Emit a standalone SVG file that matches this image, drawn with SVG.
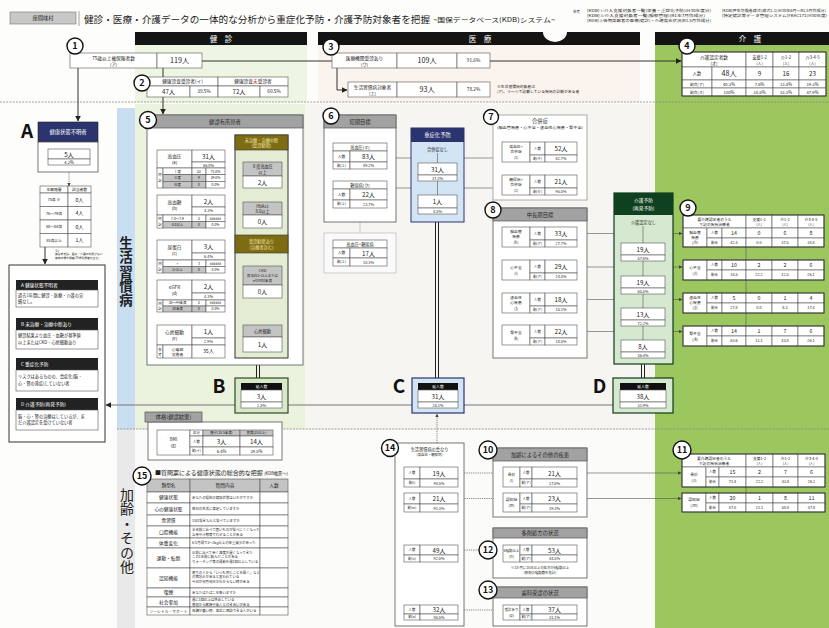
<svg xmlns="http://www.w3.org/2000/svg" width="829" height="628" viewBox="0 0 829 628">
<defs>
<marker id="ah" viewBox="0 0 10 10" refX="9" refY="5" markerWidth="6" markerHeight="6" markerUnits="userSpaceOnUse" orient="auto"><path d="M0,0 L10,5 L0,10 z" fill="#222"/></marker>
<marker id="ahs" viewBox="0 0 10 10" refX="9" refY="5" markerWidth="3.5" markerHeight="3.5" markerUnits="userSpaceOnUse" orient="auto"><path d="M0,0 L10,5 L0,10 z" fill="#444"/></marker>
</defs>
<style>
text{font-family:'Noto Sans CJK JP','Noto Sans',sans-serif;fill:#222;text-anchor:middle}
.l{text-anchor:start}
.w{fill:#fff}
.f3{font-size:3.4px}.f35{font-size:3.8px}.f4{font-size:4.2px}.f45{font-size:4.7px}.f5{font-size:5.3px}.f6{font-size:6.2px}.f7{font-size:7.2px}
.c{fill:#fff;stroke:#555;stroke-width:0.6}
.g{fill:#c4c4c4;stroke:#555;stroke-width:0.6}
.hd{fill:#a2a2a2;stroke:#555;stroke-width:0.7}
.bx{fill:#fff;stroke:#555;stroke-width:0.8}
.ln{stroke:#333;stroke-width:1;fill:none}
.tl{stroke:#555;stroke-width:0.6;fill:none}
.dl{stroke:#555;stroke-width:0.7;stroke-dasharray:1.2 1;fill:none}
.db{stroke:#222;stroke-width:1;fill:none}
.cr{fill:#fff;stroke:#111;stroke-width:1.4}
.nm{font-size:9px;font-weight:bold;fill:#111}
.big{font-size:19px;font-weight:bold;fill:#111}
.sep{stroke:#888;stroke-width:0.8;stroke-dasharray:2 1.2}
.bar{fill:#141414}
.ol{fill:#7e6c14;stroke:#333;stroke-width:0.6}
.olt{fill:#f3e6a8}
.tb{fill:none;stroke:#333;stroke-width:0.9}
.vt{writing-mode:vertical-rl;text-anchor:middle}
</style>

<g id="bg">
<rect x="0" y="0" width="829" height="628" fill="#fdfdfb"/>
<rect x="135" y="45" width="172" height="57" fill="#eef5e2"/>
<rect x="318" y="45" width="322" height="57" fill="#fbf3ee"/>
<rect x="655" y="45" width="174" height="583" fill="#9cc75e"/>
<rect x="135" y="104" width="170" height="325" fill="#ebf2de"/>
<rect x="305" y="104" width="350" height="325" fill="#f6f5f1"/>
<rect x="135" y="429" width="520" height="199" fill="#fbfbf9"/>
<rect x="117" y="108" width="18" height="321" fill="#c9def2"/>
<rect x="117" y="429" width="18" height="199" fill="#e9e9e9"/>
<line class="sep" x1="0" y1="102" x2="829" y2="102"/>
<line class="sep" x1="117" y1="429" x2="829" y2="429"/>
</g>

<g id="header">
<rect x="10" y="12" width="66" height="12" fill="#c8c8c8" stroke="#777" stroke-width="0.6"/>
<text x="43" y="20" class="f5">座間味村</text>
<line x1="79" y1="11" x2="79" y2="26" stroke="#666" stroke-width="0.6"/>
<text x="84" y="22.5" class="l" font-size="9.6" textLength="346" lengthAdjust="spacingAndGlyphs">健診・医療・介護データの一体的な分析から重症化予防・介護予防対象者を把握</text>
<text x="433" y="21.5" class="l" font-size="6.2" textLength="122" lengthAdjust="spacingAndGlyphs">~国保データベース(KDB)システム~</text>
<text x="573" y="13" class="l f3">参考</text>
<text x="587" y="11.5" class="l f3" textLength="124" lengthAdjust="spacingAndGlyphs">[KDB]①介入支援対象者一覧(栄養・重症化予防)(H30年度分)</text>
<text x="587" y="16.5" class="l f3" textLength="118" lengthAdjust="spacingAndGlyphs">[KDB]②介入支援対象者一覧(服薬管理)(R1年7月作成分)</text>
<text x="587" y="21.5" class="l f3" textLength="124" lengthAdjust="spacingAndGlyphs">[KDB]③後期高齢者の医療(健診)・介護突合状況(R1.5月作成分)</text>
<text x="722" y="11.5" class="l f3" textLength="104" lengthAdjust="spacingAndGlyphs">[KDB]厚生労働省様式(様式1-1)(H30年6月〜R1.5月作成分)</text>
<text x="722" y="16.5" class="l f3" textLength="105" lengthAdjust="spacingAndGlyphs">[特定健診等データ管理システム]FKAC171(H30年度)</text>
<rect class="bar" x="135" y="32" width="172" height="13"/>
<text x="221" y="41.5" class="w" font-size="7.5">健　診</text>
<rect class="bar" x="318" y="32" width="322" height="13"/>
<ellipse cx="555" cy="32" rx="12" ry="10" fill="#fdfdfb"/>
<text x="480" y="41.5" class="w" font-size="7.5">医　療</text>
<rect class="bar" x="655" y="32" width="174" height="13"/>
<text x="750" y="41.5" class="w" font-size="7.5">介　護</text>
<text x="126" y="272" class="vt" font-size="13.5" font-weight="bold" letter-spacing="0.8">生活習慣病</text>
<text x="127" y="531" class="vt" font-size="14" letter-spacing="0.5">加齢・その他</text>
</g>

<g id="connectors">
<line class="ln" x1="202" y1="61" x2="332" y2="61"/>
<line class="ln" x1="490" y1="61" x2="681" y2="61" marker-end="url(#ah)"/>
<path class="ln" d="M337,68 V90 H347" marker-end="url(#ah)"/>
<line class="ln" x1="78" y1="68" x2="78" y2="121" marker-end="url(#ah)"/>
<line class="ln" x1="163" y1="68" x2="163" y2="114" marker-end="url(#ah)"/>
<line class="dl" x1="69" y1="172" x2="69" y2="186" marker-end="url(#ahs)"/>
<line class="ln" x1="45" y1="247" x2="45" y2="264" marker-end="url(#ah)"/>
<line x1="613" y1="405" x2="106" y2="405" stroke="#777" stroke-width="1" marker-end="url(#ah)"/>
<line class="dl" x1="225" y1="180" x2="242" y2="180" marker-end="url(#ahs)"/>
<line class="dl" x1="225" y1="218" x2="242" y2="218" marker-end="url(#ahs)"/>
<path class="dl" d="M225,270 H229 V309 H225"/>
<line class="dl" x1="229" y1="270" x2="242" y2="270" marker-end="url(#ahs)"/>
<line class="dl" x1="225" y1="331" x2="242" y2="331" marker-end="url(#ahs)"/>
<line class="db" x1="256.5" y1="365" x2="256.5" y2="378"/><line class="db" x1="259.5" y1="365" x2="259.5" y2="378"/>
<line x1="360" y1="222" x2="360" y2="233" stroke="#aaa" stroke-width="0.6"/>
<line class="tl" x1="387" y1="158" x2="501" y2="158" marker-end="url(#ahs)"/>
<line class="tl" x1="387" y1="188" x2="501" y2="188" marker-end="url(#ahs)"/>
<line class="db" x1="435.5" y1="222" x2="435.5" y2="378"/><line class="db" x1="438.5" y1="222" x2="438.5" y2="378"/>
<line class="tl" x1="577" y1="233.5" x2="682" y2="233.5" marker-end="url(#ahs)"/>
<line class="tl" x1="577" y1="267" x2="682" y2="267" marker-end="url(#ahs)"/>
<line class="tl" x1="577" y1="299.5" x2="682" y2="299.5" marker-end="url(#ahs)"/>
<line class="tl" x1="577" y1="331.5" x2="682" y2="331.5" marker-end="url(#ahs)"/>
<line class="db" x1="641.5" y1="364" x2="641.5" y2="378"/><line class="db" x1="644.5" y1="364" x2="644.5" y2="378"/>
<line class="dl" x1="437" y1="443" x2="437" y2="414" marker-end="url(#ahs)"/>
<line class="tl" x1="577" y1="473" x2="681" y2="473" marker-end="url(#ahs)"/>
<line class="tl" x1="577" y1="498.5" x2="681" y2="498.5" marker-end="url(#ahs)"/>
<line class="dl" x1="503" y1="473" x2="459" y2="473" marker-end="url(#ahs)"/>
<line class="dl" x1="503" y1="498.5" x2="459" y2="498.5" marker-end="url(#ahs)"/>
<line class="dl" x1="503" y1="550" x2="459" y2="550" marker-end="url(#ahs)"/>
<line class="dl" x1="503" y1="610" x2="459" y2="610" marker-end="url(#ahs)"/>
</g>

<g id="n1">
<rect class="c" x="70" y="53" width="87" height="15"/>
<text x="113.5" y="59.5" class="f45">75歳以上被保険者数</text><text x="113.5" y="65.5" class="f4">(ア)</text>
<rect class="c" x="157" y="53" width="45" height="15"/>
<text x="179.5" y="63" class="f7">119人</text>
<circle class="cr" cx="75" cy="46" r="8"/><text x="75" y="49.3" class="nm">1</text>
</g>

<g id="n2">
<rect class="c" x="147" y="77" width="71" height="9"/><text x="182.5" y="83" class="f45">健康診査受診者(イ)</text>
<rect class="c" x="218" y="77" width="70" height="9"/><text x="253" y="83" class="f45">健康診査<tspan fill="#d22">未</tspan>受診者</text>
<rect class="c" x="147" y="86" width="43" height="11"/><text x="168.5" y="93.8" class="f6">47人</text>
<rect class="c" x="190" y="86" width="28" height="11"/><text x="204" y="93" class="f45">39.5%</text>
<rect class="c" x="218" y="86" width="42" height="11"/><text x="239" y="93.8" class="f6">72人</text>
<rect class="c" x="260" y="86" width="28" height="11"/><text x="274" y="93" class="f45">60.5%</text>
<circle class="cr" cx="142" cy="83" r="8"/><text x="142" y="86.3" class="nm">2</text>
</g>

<g id="n3">
<rect class="c" x="332" y="53" width="65" height="15"/><text x="364.5" y="59.5" class="f45">医療機関受診あり</text><text x="364.5" y="65.5" class="f4">(ウ)</text>
<rect class="c" x="397" y="53" width="60" height="15"/><text x="427" y="63" class="f7">109人</text>
<rect class="c" x="457" y="53" width="33" height="15"/><text x="473.5" y="62.3" class="f45">91.6%</text>
<rect class="c" x="348" y="82" width="49" height="15"/><text x="372.5" y="88.5" class="f45">生活習慣病対象者</text><text x="372.5" y="94.5" class="f4">(エ)</text>
<rect class="c" x="397" y="82" width="60" height="15"/><text x="427" y="92" class="f7">93人</text>
<rect class="c" x="457" y="82" width="33" height="15"/><text x="473.5" y="91.3" class="f45">78.2%</text>
<text x="497" y="87.5" class="l f35">※生活習慣病対象者は</text>
<text x="497" y="92.5" class="l f35">(ア)、⑤〜⑧で記載している疾病の診断がある者</text>
<circle class="cr" cx="331" cy="47" r="8"/><text x="331" y="50.3" class="nm">3</text>
</g>

<g id="n4">
<rect class="c" x="682" y="52" width="64" height="15"/><text x="714" y="58.5" class="f45">介護認定者数</text><text x="714" y="64.5" class="f4">(オ)</text>
<rect class="c" x="746" y="52" width="27" height="15"/><text x="759.5" y="58.5" class="f4">支援1-2</text><text x="759.5" y="64.5" class="f35">(人)</text>
<rect class="c" x="773" y="52" width="26" height="15"/><text x="786" y="58.5" class="f4">介1-2</text><text x="786" y="64.5" class="f35">(人)</text>
<rect class="c" x="799" y="52" width="27" height="15"/><text x="812.5" y="58.5" class="f4">介3-4-5</text><text x="812.5" y="64.5" class="f35">(人)</text>
<rect class="c" x="682" y="67" width="30" height="13"/><text x="697" y="75" class="f4">人数</text>
<rect class="c" x="712" y="67" width="34" height="13"/><text x="729" y="76.3" class="f7">48人</text>
<rect class="c" x="746" y="67" width="27" height="13"/><text x="759.5" y="76" class="f6">9</text>
<rect class="c" x="773" y="67" width="26" height="13"/><text x="786" y="76" class="f6">16</text>
<rect class="c" x="799" y="67" width="27" height="13"/><text x="812.5" y="76" class="f6">23</text>
<rect class="c" x="682" y="80" width="30" height="8"/><text x="697" y="85.5" class="f35">割合(ア)</text>
<rect class="c" x="712" y="80" width="34" height="8"/><text x="729" y="85.5" class="f4">40.3%</text>
<rect class="c" x="746" y="80" width="27" height="8"/><text x="759.5" y="85.5" class="f4">7.6%</text>
<rect class="c" x="773" y="80" width="26" height="8"/><text x="786" y="85.5" class="f4">13.4%</text>
<rect class="c" x="799" y="80" width="27" height="8"/><text x="812.5" y="85.5" class="f4">19.3%</text>
<rect class="c" x="682" y="88" width="30" height="8"/><text x="697" y="93.5" class="f35">割合(オ)</text>
<rect class="c" x="712" y="88" width="34" height="8"/><text x="729" y="93.5" class="f4">100%</text>
<rect class="c" x="746" y="88" width="27" height="8"/><text x="759.5" y="93.5" class="f4">18.8%</text>
<rect class="c" x="773" y="88" width="26" height="8"/><text x="786" y="93.5" class="f4">33.3%</text>
<rect class="c" x="799" y="88" width="27" height="8"/><text x="812.5" y="93.5" class="f4">47.9%</text>
<rect class="tb" x="682" y="52" width="144" height="44"/>
<circle class="cr" cx="687" cy="46" r="8"/><text x="687" y="49.3" class="nm">4</text>
</g>

<g id="nA">
<text x="27" y="137.5" class="big" font-size="18">A</text>
<rect x="38" y="122" width="60" height="20" fill="#2c3470" stroke="#222" stroke-width="0.6"/>
<text x="68" y="134" class="w f5">健康状態不明者</text>
<rect class="bx" x="38" y="142" width="60" height="30"/>
<rect class="c" x="48" y="149" width="42" height="10"/><text x="69" y="156.5" class="f6">5人</text>
<rect class="c" x="48" y="159" width="42" height="6"/><text x="69" y="163.5" class="f4">4.2%</text>
<rect class="c" x="40" y="186" width="28" height="7"/><text x="54" y="191" class="f35">年齢階層</text>
<rect class="c" x="68" y="186" width="23" height="7"/><text x="79.5" y="191" class="f35">該当者数</text>
<rect class="c" x="40" y="193" width="28" height="13.5"/><text x="54" y="201.3" class="f35">75歳 ※</text>
<rect class="c" x="68" y="193" width="23" height="13.5"/><text x="79.5" y="201.8" class="f5">0人</text>
<rect class="c" x="40" y="206.5" width="28" height="13.5"/><text x="54" y="214.8" class="f35">76〜79歳</text>
<rect class="c" x="68" y="206.5" width="23" height="13.5"/><text x="79.5" y="215.3" class="f5">4人</text>
<rect class="c" x="40" y="220" width="28" height="13.5"/><text x="54" y="228.3" class="f35">80〜84歳</text>
<rect class="c" x="68" y="220" width="23" height="13.5"/><text x="79.5" y="228.8" class="f5">0人</text>
<rect class="c" x="40" y="233.5" width="28" height="13.5"/><text x="54" y="241.8" class="f35">85歳以上</text>
<rect class="c" x="68" y="233.5" width="23" height="13.5"/><text x="79.5" y="242.3" class="f5">1人</text>
<text x="55" y="251.5" class="l" font-size="3">※)</text>
<text x="55" y="255" class="l" font-size="2.8">健診未受診、医療・介護の利用がない</text>
<text x="55" y="258.5" class="l" font-size="2.8">健康状態不明者(75歳到達者を含む)</text>
</g>

<g id="legend">
<rect x="9" y="265" width="96" height="177" fill="#fff" stroke="#333" stroke-width="1"/>
<rect x="16" y="280" width="82" height="10" fill="#222"/><text x="21" y="287" class="l w f45">A  健康状態不明者</text>
<rect class="c" x="16" y="290" width="82" height="17"/>
<text x="18" y="296.5" class="l f4">過去1年間に健診・医療・介護の実</text><text x="18" y="302.5" class="l f4">績なし。</text>
<rect x="16" y="318" width="82" height="12" fill="#222"/><text x="21" y="326" class="l w f45">B  未治療・治療中断あり</text>
<rect class="c" x="16" y="330" width="82" height="19"/>
<text x="18" y="337" class="l f4">健診結果より血圧・血糖が基準値</text><text x="18" y="343.5" class="l f4">以上またはCKD・心房細動あり</text>
<rect x="16" y="358" width="82" height="12" fill="#222"/><text x="21" y="366" class="l w f45">C  重症化予防</text>
<rect class="c" x="16" y="370" width="82" height="21"/>
<text x="18" y="378" class="l f4">リスクはあるものの、重症化(脳・</text><text x="18" y="384.5" class="l f4">心・腎の発症)していない者</text>
<rect x="16" y="398" width="82" height="12" fill="#222"/><text x="21" y="406" class="l w f45">D  介護予防(再発予防)</text>
<rect class="c" x="16" y="410" width="82" height="20"/>
<text x="18" y="417.5" class="l f4">脳・心・腎の治療はしているが、ま</text><text x="18" y="424" class="l f4">だ介護認定を受けていない者</text>
</g>

<g id="n5">
<rect class="bx" x="147" y="115" width="156" height="250"/>
<rect class="hd" x="147" y="115" width="156" height="13"/>
<text x="225" y="124" class="f5">健診有所見者</text>
<rect class="c" x="157" y="150" width="35" height="18"/><text x="174.5" y="157.5" class="f45">高血圧</text><text x="174.5" y="164" class="f4">(a)</text>
<rect class="c" x="192" y="150" width="33" height="12"/><text x="208.5" y="158.6" class="f6">31人</text>
<rect class="c" x="192" y="162" width="33" height="6"/><text x="208.5" y="166.5" class="f35">66.0%</text>
<rect class="c" x="157" y="168" width="6" height="20"/><text x="160" y="176" class="f3">内</text><text x="160" y="182" class="f3">訳</text>
<rect class="c" x="163" y="168" width="29" height="6.7"/><text x="177.5" y="172.7" class="f3">Ⅰ度</text>
<rect class="c" x="192" y="168" width="14" height="6.7"/><text x="199" y="172.7" class="f3">22</text>
<rect class="c" x="206" y="168" width="19" height="6.7"/><text x="215.5" y="172.7" class="f3">71.0%</text>
<rect class="g" x="163" y="174.7" width="29" height="6.6"/><text x="177.5" y="179.3" class="f3">Ⅱ度</text>
<rect class="g" x="192" y="174.7" width="14" height="6.6"/><text x="199" y="179.3" class="f3">9</text>
<rect class="c" x="206" y="174.7" width="19" height="6.6"/><text x="215.5" y="179.3" class="f3">29.0%</text>
<rect class="g" x="163" y="181.3" width="29" height="6.7"/><text x="177.5" y="186" class="f3">Ⅲ度</text>
<rect class="g" x="192" y="181.3" width="14" height="6.7"/><text x="199" y="186" class="f3">0</text>
<rect class="c" x="206" y="181.3" width="19" height="6.7"/><text x="215.5" y="186" class="f3">0.0%</text>
<rect class="c" x="157" y="195" width="35" height="20"/><text x="174.5" y="203.5" class="f45">高血糖</text><text x="174.5" y="210" class="f4">(b)</text>
<rect class="c" x="192" y="195" width="33" height="12"/><text x="208.5" y="203.6" class="f6">2人</text>
<rect class="c" x="192" y="207" width="33" height="8"/><text x="208.5" y="212.4" class="f35">4.3%</text>
<rect class="c" x="157" y="215" width="6" height="13"/><text x="160" y="220" class="f3">内</text><text x="160" y="226" class="f3">訳</text>
<rect class="c" x="163" y="215" width="29" height="6.5"/><text x="177.5" y="219.6" class="f3">7.0〜7.9</text>
<rect class="c" x="192" y="215" width="14" height="6.5"/><text x="199" y="219.6" class="f3">2</text>
<rect class="c" x="206" y="215" width="19" height="6.5"/><text x="215.5" y="219.6" class="f3">######</text>
<rect class="g" x="163" y="221.5" width="29" height="6.5"/><text x="177.5" y="226.1" class="f3">8.0以上</text>
<rect class="g" x="192" y="221.5" width="14" height="6.5"/><text x="199" y="226.1" class="f3">0</text>
<rect class="c" x="206" y="221.5" width="19" height="6.5"/><text x="215.5" y="226.1" class="f3">0.0%</text>
<rect class="c" x="157" y="240" width="35" height="20"/><text x="174.5" y="248.5" class="f45">尿蛋白</text><text x="174.5" y="255" class="f4">(c)</text>
<rect class="c" x="192" y="240" width="33" height="13"/><text x="208.5" y="249" class="f6">3人</text>
<rect class="c" x="192" y="253" width="33" height="7"/><text x="208.5" y="257.9" class="f35">6.4%</text>
<rect class="c" x="157" y="260" width="6" height="13"/><text x="160" y="265" class="f3">内</text><text x="160" y="271" class="f3">訳</text>
<rect class="c" x="163" y="260" width="29" height="6.5"/><text x="177.5" y="264.6" class="f3">+</text>
<rect class="c" x="192" y="260" width="14" height="6.5"/><text x="199" y="264.6" class="f3">3</text>
<rect class="c" x="206" y="260" width="19" height="6.5"/><text x="215.5" y="264.6" class="f3">######</text>
<rect class="g" x="163" y="266.5" width="29" height="6.5"/><text x="177.5" y="271.1" class="f3">2+以上</text>
<rect class="g" x="192" y="266.5" width="14" height="6.5"/><text x="199" y="271.1" class="f3">0</text>
<rect class="c" x="206" y="266.5" width="19" height="6.5"/><text x="215.5" y="271.1" class="f3">0.0%</text>
<rect class="c" x="157" y="280" width="35" height="20"/><text x="174.5" y="288.5" class="f45">eGFR</text><text x="174.5" y="295" class="f4">(d)</text>
<rect class="c" x="192" y="280" width="33" height="13"/><text x="208.5" y="289" class="f6">2人</text>
<rect class="c" x="192" y="293" width="33" height="7"/><text x="208.5" y="297.9" class="f35">4.3%</text>
<rect class="c" x="157" y="300" width="6" height="12"/><text x="160" y="304.8" class="f3">内</text><text x="160" y="310.3" class="f3">訳</text>
<rect class="c" x="163" y="300" width="29" height="6"/><text x="177.5" y="304.3" class="f3">30〜44未満</text>
<rect class="c" x="192" y="300" width="14" height="6"/><text x="199" y="304.3" class="f3">2</text>
<rect class="c" x="206" y="300" width="19" height="6"/><text x="215.5" y="304.3" class="f3">######</text>
<rect class="g" x="163" y="306" width="29" height="6"/><text x="177.5" y="310.3" class="f3">30未満</text>
<rect class="g" x="192" y="306" width="14" height="6"/><text x="199" y="310.3" class="f3">0</text>
<rect class="c" x="206" y="306" width="19" height="6"/><text x="215.5" y="310.3" class="f3">0.0%</text>
<rect class="c" x="157" y="325" width="35" height="20"/><text x="174.5" y="333.5" class="f45">心房細動</text><text x="174.5" y="340" class="f4">(e)</text>
<rect class="c" x="192" y="325" width="33" height="13"/><text x="208.5" y="334" class="f6">1人</text>
<rect class="c" x="192" y="338" width="33" height="7"/><text x="208.5" y="342.9" class="f35">2.9%</text>
<rect class="c" x="157" y="345" width="6" height="13"/><text x="160" y="350.5" class="f3">参</text><text x="160" y="356" class="f3">考</text>
<rect class="c" x="163" y="345" width="29" height="13"/><text x="177.5" y="350.5" class="f35">心電図</text><text x="177.5" y="355.8" class="f35">実施者</text>
<rect class="c" x="192" y="345" width="33" height="13"/><text x="208.5" y="353.3" class="f5">35人</text>
<rect x="235" y="135" width="53" height="223" fill="#e4edd4" stroke="#333" stroke-width="1"/>
<rect class="ol" x="235" y="135" width="53" height="15"/>
<text x="261.5" y="141.5" class="olt f4">未治療・治療中断</text><text x="261.5" y="147.3" class="olt f4">(受診勧奨)</text>
<rect class="g" x="243" y="162" width="39" height="14"/><text x="262.5" y="168" class="f4">Ⅱ度高血圧</text><text x="262.5" y="173.5" class="f4">以上</text>
<rect class="c" x="243" y="176" width="39" height="12"/><text x="262.5" y="184.6" class="f6">2人</text>
<rect class="g" x="243" y="202" width="39" height="13"/><text x="262.5" y="207.6" class="f4">HbA1c</text><text x="262.5" y="212.8" class="f4">8.0以上</text>
<rect class="c" x="243" y="215" width="39" height="13"/><text x="262.5" y="224" class="f6">0人</text>
<rect class="ol" x="235" y="235" width="53" height="18"/>
<text x="261.5" y="243" class="olt f4">受診勧奨あり</text><text x="261.5" y="249" class="olt f4">(治療者含む)</text>
<rect class="g" x="243" y="266" width="39" height="19"/><text x="262.5" y="271.5" class="f35">CKD</text><text x="262.5" y="276.5" class="f3">尿蛋白2+以上または</text><text x="262.5" y="281.5" class="f3">eGFR30未満</text>
<rect class="c" x="243" y="285" width="39" height="13"/><text x="262.5" y="294" class="f6">0人</text>
<rect class="g" x="243" y="325" width="39" height="12"/><text x="262.5" y="332.5" class="f4">心房細動</text>
<rect class="c" x="243" y="337" width="39" height="15"/><text x="262.5" y="347" class="f6">1人</text>
<circle class="cr" cx="148" cy="120" r="8.5"/><text x="148" y="123.3" class="nm">5</text>
</g>

<g id="nB">
<text x="219" y="393" class="big">B</text>
<rect x="235" y="378" width="53" height="35" fill="#d9e8c9" stroke="#2d4a25" stroke-width="1.2"/>
<rect x="241" y="383" width="41" height="7" fill="#111"/><text x="261.5" y="388.2" class="w f35">延人数</text>
<rect class="c" x="241" y="390" width="41" height="12"/><text x="261.5" y="398.6" class="f6">3人</text>
<rect class="c" x="241" y="402" width="41" height="6"/><text x="261.5" y="406.5" class="f35">2.5%</text>
</g>

<g id="nBMI">
<rect class="bx" x="148" y="422" width="134" height="38"/>
<rect class="hd" x="145" y="412" width="57" height="10"/><text x="173.5" y="419" class="f5">体格(健診結果)</text>
<rect class="c" x="157" y="430" width="33" height="25"/><text x="173.5" y="441" class="f4">BMI</text><text x="173.5" y="447" class="f4">(g)</text>
<rect class="c" x="190" y="430" width="13" height="6"/><text x="196.5" y="434.3" class="f3">区分</text>
<rect class="g" x="203" y="430" width="37" height="6"/><text x="221.5" y="434.3" class="f3">痩せ(18.5未満)</text>
<rect class="g" x="240" y="430" width="33" height="6"/><text x="256.5" y="434.3" class="f3">肥満(25以上)</text>
<rect class="c" x="190" y="436" width="13" height="11"/><text x="196.5" y="442.7" class="f3">人数</text>
<rect class="c" x="203" y="436" width="37" height="11"/><text x="221.5" y="443.8" class="f6">3人</text>
<rect class="c" x="240" y="436" width="33" height="11"/><text x="256.5" y="443.8" class="f6">14人</text>
<rect class="c" x="190" y="447" width="13" height="8"/><text x="196.5" y="452.2" class="f3">割(イ)</text>
<rect class="c" x="203" y="447" width="37" height="8"/><text x="221.5" y="452.5" class="f4">6.4%</text>
<rect class="c" x="240" y="447" width="33" height="8"/><text x="256.5" y="452.5" class="f4">29.8%</text>
</g>

<g id="n15">
<text x="155" y="475" class="l" font-size="6">■質問票による健康状態の総合的な把握 <tspan font-size="4.2">(KDB帳票〜)</tspan></text>
<rect class="g" x="147" y="479" width="43" height="13"/><text x="168.5" y="487" class="f45">類型名</text>
<rect class="g" x="190" y="479" width="70" height="13"/><text x="225" y="487" class="f45">質問内容</text>
<rect class="g" x="260" y="479" width="28" height="13"/><text x="274" y="487" class="f45">人数</text>
<rect class="c" x="147" y="492" width="43" height="11"/><text x="168.5" y="499" class="f45">健康状態</text>
<rect class="c" x="190" y="492" width="70" height="11"/><text x="192" y="498.7" class="l f3">あなたの現在の健康状態はいかがですか</text>
<rect class="c" x="260" y="492" width="28" height="11"/>
<rect class="c" x="147" y="503" width="43" height="12"/><text x="168.5" y="510.5" class="f45">心の健康状態</text>
<rect class="c" x="190" y="503" width="70" height="12"/><text x="192" y="510.2" class="l f3">毎日の生活に満足していますか</text>
<rect class="c" x="260" y="503" width="28" height="12"/>
<rect class="c" x="147" y="515" width="43" height="11"/><text x="168.5" y="522" class="f45">食習慣</text>
<rect class="c" x="190" y="515" width="70" height="11"/><text x="192" y="521.7" class="l f3">1日3食きちんと食べていますか</text>
<rect class="c" x="260" y="515" width="28" height="11"/>
<rect class="c" x="147" y="526" width="43" height="12"/><text x="168.5" y="533.5" class="f45">口腔機能</text>
<rect class="c" x="190" y="526" width="70" height="12"/><text x="192" y="531" class="l f3">半年前に比べて固いものが食べにくくなった</text><text x="192" y="535.5" class="l f3">お茶や汁物等でむせることがある</text>
<rect class="c" x="260" y="526" width="28" height="12"/>
<rect class="c" x="147" y="538" width="43" height="10"/><text x="168.5" y="544.7" class="f45">体重変化</text>
<rect class="c" x="190" y="538" width="70" height="10"/><text x="192" y="544.3" class="l f3">6カ月間で2〜3kg以上の体重減少があった</text>
<rect class="c" x="260" y="538" width="28" height="10"/>
<rect class="c" x="147" y="548" width="43" height="20"/><text x="168.5" y="559.5" class="f45">運動・転倒</text>
<rect class="c" x="190" y="548" width="70" height="20"/><text x="192" y="553.5" class="l f3">以前に比べて歩く速度が遅くなってきた</text><text x="192" y="558.3" class="l f3">この1年間に転んだことがある</text><text x="192" y="563.1" class="l f3">ウォーキング等の運動を週1回以上している</text>
<rect class="c" x="260" y="548" width="28" height="20"/>
<rect class="c" x="147" y="568" width="43" height="20"/><text x="168.5" y="579.5" class="f45">認知機能</text>
<rect class="c" x="190" y="568" width="70" height="20"/><text x="192" y="573.5" class="l f3">周りの人から「いつも同じことを聞く」など</text><text x="192" y="578.3" class="l f3">の物忘れがあると言われている</text><text x="192" y="583.1" class="l f3">今日が何月何日かわからない時がある</text>
<rect class="c" x="260" y="568" width="28" height="20"/>
<rect class="c" x="147" y="588" width="43" height="9"/><text x="168.5" y="594.2" class="f45">喫煙</text>
<rect class="c" x="190" y="588" width="70" height="9"/><text x="192" y="593.8" class="l f3">あなたはたばこを吸いますか</text>
<rect class="c" x="260" y="588" width="28" height="9"/>
<rect class="c" x="147" y="597" width="43" height="10"/><text x="168.5" y="603.7" class="f45">社会参加</text>
<rect class="c" x="190" y="597" width="70" height="10"/><text x="192" y="601.3" class="l f3">週に1回以上は外出している</text><text x="192" y="605.5" class="l f3">普段から家族や友人と付き合いがある</text>
<rect class="c" x="260" y="597" width="28" height="10"/>
<rect class="c" x="147" y="607" width="43" height="8"/><text x="168.5" y="612.5" class="f35">ソーシャル・サポート</text>
<rect class="c" x="190" y="607" width="70" height="8"/><text x="192" y="612.2" class="l f3">体調が悪い時、身近に相談できる人がいる</text>
<rect class="c" x="260" y="607" width="28" height="8"/>
<circle class="cr" cx="142" cy="476" r="9"/><text x="142" y="479.3" class="nm" font-size="8.5">15</text>
</g>

<g id="n6">
<rect class="bx" x="324" y="115" width="72" height="107"/>
<rect class="hd" x="324" y="115" width="72" height="13"/><text x="360" y="124" class="f5">短期目標</text>
<rect class="c" x="333" y="143" width="54" height="8"/><text x="360" y="148.6" class="f4">高血圧(キ)</text>
<rect class="c" x="333" y="151" width="17" height="11"/><text x="341.5" y="157.8" class="f35">人数</text>
<rect class="c" x="350" y="151" width="37" height="11"/><text x="368.5" y="159" class="f6">83人</text>
<rect class="c" x="333" y="162" width="17" height="7"/><text x="341.5" y="166.8" class="f3">割(エ)</text>
<rect class="c" x="350" y="162" width="37" height="7"/><text x="368.5" y="167" class="f35">89.2%</text>
<rect class="c" x="333" y="181" width="54" height="8"/><text x="360" y="186.6" class="f4">糖尿病(ク)</text>
<rect class="c" x="333" y="189" width="17" height="11"/><text x="341.5" y="195.8" class="f35">人数</text>
<rect class="c" x="350" y="189" width="37" height="11"/><text x="368.5" y="197" class="f6">22人</text>
<rect class="c" x="333" y="200" width="17" height="8"/><text x="341.5" y="205.3" class="f3">割(エ)</text>
<rect class="c" x="350" y="200" width="37" height="8"/><text x="368.5" y="205.5" class="f35">23.7%</text>
<rect x="324" y="233" width="72" height="40" fill="#fafafa" stroke="#bbb" stroke-width="0.7"/>
<rect class="c" x="333" y="240" width="54" height="8"/><text x="360" y="245.6" class="f4">高血圧+糖尿病</text>
<rect class="c" x="333" y="248" width="17" height="10"/><text x="341.5" y="254.3" class="f35">人数</text>
<rect class="c" x="350" y="248" width="37" height="10"/><text x="368.5" y="255.5" class="f6">17人</text>
<rect class="c" x="333" y="258" width="17" height="8"/><text x="341.5" y="263.3" class="f3">割(エ)</text>
<rect class="c" x="350" y="258" width="37" height="8"/><text x="368.5" y="263.5" class="f35">18.3%</text>
<circle class="cr" cx="331" cy="116" r="8"/><text x="331" y="119.3" class="nm">6</text>
</g>

<g id="nCcol">
<rect x="411" y="128" width="53" height="94" fill="#d3e4f4" stroke="#2c3470" stroke-width="1"/>
<rect x="411" y="128" width="53" height="14" fill="#2c3470"/>
<text x="437.5" y="137" class="w f5">重症化予防</text>
<text x="437.5" y="151" class="f4">合併症なし</text>
<line class="tl" x1="437.5" y1="153" x2="437.5" y2="195"/>
<rect class="c" x="418" y="163" width="39" height="12"/><text x="437.5" y="171.6" class="f6">31人</text>
<rect class="c" x="418" y="175" width="39" height="6"/><text x="437.5" y="179.5" class="f35">37.3%</text>
<rect class="c" x="418" y="195" width="39" height="13"/><text x="437.5" y="204" class="f6">1人</text>
<rect class="c" x="418" y="208" width="39" height="6"/><text x="437.5" y="212.5" class="f35">4.5%</text>
</g>

<g id="nC">
<text x="399" y="393" class="big">C</text>
<rect x="412" y="378" width="52" height="35" fill="#d3e4f4" stroke="#2c3470" stroke-width="1.2"/>
<rect x="418" y="383" width="40" height="7" fill="#111"/><text x="438" y="388.2" class="w f35">延人数</text>
<rect class="c" x="418" y="390" width="40" height="12"/><text x="438" y="398.6" class="f6">31人</text>
<rect class="c" x="418" y="402" width="40" height="6"/><text x="438" y="406.5" class="f35">26.1%</text>
</g>

<g id="n7">
<rect x="493" y="115" width="94" height="85" fill="#fff" stroke="#999" stroke-width="0.8"/>
<text x="540" y="123" class="f5">合併症</text>
<text x="540" y="129" class="f3" textLength="86" lengthAdjust="spacingAndGlyphs">(脳血管疾患・心不全・虚血性心疾患・腎不全)</text>
<rect class="c" x="502" y="142" width="28" height="20"/><text x="516" y="148" class="f35">高血圧+</text><text x="516" y="153.3" class="f35">合併症</text><text x="516" y="158.6" class="f35">(1)</text>
<rect class="c" x="530" y="142" width="15" height="13"/><text x="537.5" y="149.8" class="f3">人数</text>
<rect class="c" x="545" y="142" width="32" height="13"/><text x="561" y="151" class="f6">52人</text>
<rect class="c" x="530" y="155" width="15" height="7"/><text x="537.5" y="159.8" class="f3">割(キ)</text>
<rect class="c" x="545" y="155" width="32" height="7"/><text x="561" y="160" class="f35">62.7%</text>
<rect class="c" x="502" y="175" width="28" height="20"/><text x="516" y="181" class="f35">糖尿病+</text><text x="516" y="186.3" class="f35">合併症</text><text x="516" y="191.6" class="f35">(2)</text>
<rect class="c" x="530" y="175" width="15" height="13"/><text x="537.5" y="182.8" class="f3">人数</text>
<rect class="c" x="545" y="175" width="32" height="13"/><text x="561" y="184" class="f6">21人</text>
<rect class="c" x="530" y="188" width="15" height="7"/><text x="537.5" y="192.8" class="f3">割(ク)</text>
<rect class="c" x="545" y="188" width="32" height="7"/><text x="561" y="193" class="f35">95.5%</text>
<circle class="cr" cx="491" cy="117" r="7.5"/><text x="491" y="120.3" class="nm">7</text>
</g>

<g id="n8">
<rect class="bx" x="493" y="208" width="94" height="150"/>
<rect class="hd" x="493" y="208" width="94" height="13"/><text x="540" y="217.3" class="f5">中長期目標</text>
<rect class="c" x="502" y="227" width="28" height="20"/><text x="516" y="233" class="f35">脳血管</text><text x="516" y="238.3" class="f35">疾患</text><text x="516" y="243.6" class="f35">(h)</text>
<rect class="c" x="530" y="227" width="15" height="13"/><text x="537.5" y="234.8" class="f3">人数</text>
<rect class="c" x="545" y="227" width="32" height="13"/><text x="561" y="236" class="f6">33人</text>
<rect class="c" x="530" y="240" width="15" height="7"/><text x="537.5" y="244.8" class="f3">割(ア)</text>
<rect class="c" x="545" y="240" width="32" height="7"/><text x="561" y="245" class="f35">27.7%</text>
<rect class="c" x="502" y="260" width="28" height="20"/><text x="516" y="268.5" class="f35">心不全</text><text x="516" y="274.5" class="f35">(i)</text>
<rect class="c" x="530" y="260" width="15" height="13"/><text x="537.5" y="267.8" class="f3">人数</text>
<rect class="c" x="545" y="260" width="32" height="13"/><text x="561" y="269" class="f6">29人</text>
<rect class="c" x="530" y="273" width="15" height="7"/><text x="537.5" y="277.8" class="f3">割(ア)</text>
<rect class="c" x="545" y="273" width="32" height="7"/><text x="561" y="278" class="f35">24.4%</text>
<rect class="c" x="502" y="293" width="28" height="20"/><text x="516" y="299" class="f35">虚血性</text><text x="516" y="304.3" class="f35">心疾患</text><text x="516" y="309.6" class="f35">(j)</text>
<rect class="c" x="530" y="293" width="15" height="13"/><text x="537.5" y="300.8" class="f3">人数</text>
<rect class="c" x="545" y="293" width="32" height="13"/><text x="561" y="302" class="f6">18人</text>
<rect class="c" x="530" y="306" width="15" height="7"/><text x="537.5" y="310.8" class="f3">割(ア)</text>
<rect class="c" x="545" y="306" width="32" height="7"/><text x="561" y="311" class="f35">15.1%</text>
<rect class="c" x="502" y="325" width="28" height="20"/><text x="516" y="333.5" class="f35">腎不全</text><text x="516" y="339.5" class="f35">(k)</text>
<rect class="c" x="530" y="325" width="15" height="13"/><text x="537.5" y="332.8" class="f3">人数</text>
<rect class="c" x="545" y="325" width="32" height="13"/><text x="561" y="334" class="f6">22人</text>
<rect class="c" x="530" y="338" width="15" height="7"/><text x="537.5" y="342.8" class="f3">割(ア)</text>
<rect class="c" x="545" y="338" width="32" height="7"/><text x="561" y="343" class="f35">18.5%</text>
<circle class="cr" cx="493" cy="210" r="8"/><text x="493" y="213.3" class="nm">8</text>
</g>

<g id="nDcol">
<rect x="614" y="193" width="59" height="171" fill="#d4e9d0" stroke="#0f3a1c" stroke-width="1.2"/>
<rect x="614" y="193" width="59" height="22" fill="#0f4020"/>
<text x="643.5" y="202" class="w f45">介護予防</text><text x="643.5" y="209.5" class="w f45">(再発予防)</text>
<text x="643.5" y="224" class="f4">介護認定なし</text>
<line class="tl" x1="643" y1="226" x2="643" y2="340"/>
<rect class="c" x="621" y="243" width="44" height="12"/><text x="643" y="251.6" class="f6">19人</text>
<rect class="c" x="621" y="255" width="44" height="6"/><text x="643" y="259.5" class="f35">57.6%</text>
<rect class="c" x="621" y="276" width="44" height="12"/><text x="643" y="284.6" class="f6">19人</text>
<rect class="c" x="621" y="288" width="44" height="6"/><text x="643" y="292.5" class="f35">65.5%</text>
<rect class="c" x="621" y="308" width="44" height="12"/><text x="643" y="316.6" class="f6">13人</text>
<rect class="c" x="621" y="320" width="44" height="6"/><text x="643" y="324.5" class="f35">72.2%</text>
<rect class="c" x="621" y="340" width="44" height="12"/><text x="643" y="348.6" class="f6">8人</text>
<rect class="c" x="621" y="352" width="44" height="6"/><text x="643" y="356.5" class="f35">36.4%</text>
</g>

<g id="nD">
<text x="599.5" y="393" class="big">D</text>
<rect x="613" y="378" width="60" height="35" fill="#d4e9d0" stroke="#0f3a1c" stroke-width="1.2"/>
<rect x="620" y="383" width="46" height="7" fill="#111"/><text x="643" y="388.2" class="w f35">延人数</text>
<rect class="c" x="620" y="390" width="46" height="12"/><text x="643" y="398.6" class="f6">38人</text>
<rect class="c" x="620" y="402" width="46" height="6"/><text x="643" y="406.5" class="f35">31.9%</text>
</g>

<g id="n9">
<line class="tl" x1="746" y1="247" x2="746" y2="326"/>
<rect class="c" x="683" y="215" width="63" height="13"/><text x="714.5" y="220.5" class="f35">要介護認定者のうち</text><text x="714.5" y="225.7" class="f35">下記の疾病治療者</text>
<rect class="c" x="746" y="215" width="26" height="13"/><text x="759" y="220.5" class="f35">支援1-2</text><text x="759" y="225.7" class="f3">(人)</text>
<rect class="c" x="772" y="215" width="26" height="13"/><text x="785" y="220.5" class="f35">介1-2</text><text x="785" y="225.7" class="f3">(人)</text>
<rect class="c" x="798" y="215" width="26" height="13"/><text x="811" y="220.5" class="f35">介3-4-5</text><text x="811" y="225.7" class="f3">(人)</text>
<rect class="c" x="683" y="228" width="24" height="19"/><text x="695" y="233.8" class="f35">脳血管</text><text x="695" y="238.8" class="f35">疾患</text><text x="695" y="243.8" class="f35">(/h)</text>
<rect class="c" x="707" y="228" width="15" height="10"/><text x="714.5" y="234.2" class="f3">人数</text>
<rect class="c" x="707" y="238" width="15" height="9"/><text x="714.5" y="243.7" class="f3">割合</text>
<rect class="c" x="722" y="228" width="24" height="10"/><text x="734" y="235" class="f5">14</text>
<rect class="c" x="746" y="228" width="26" height="10"/><text x="759" y="235" class="f5">0</text>
<rect class="c" x="772" y="228" width="26" height="10"/><text x="785" y="235" class="f5">6</text>
<rect class="c" x="798" y="228" width="26" height="10"/><text x="811" y="235" class="f5">8</text>
<rect class="c" x="722" y="238" width="24" height="9"/><text x="734" y="243.8" class="f35">42.4</text>
<rect class="c" x="746" y="238" width="26" height="9"/><text x="759" y="243.8" class="f35">0.0</text>
<rect class="c" x="772" y="238" width="26" height="9"/><text x="785" y="243.8" class="f35">37.5</text>
<rect class="c" x="798" y="238" width="26" height="9"/><text x="811" y="243.8" class="f35">34.8</text>
<rect class="tb" x="683" y="215" width="141" height="32"/>
<rect class="c" x="683" y="260" width="24" height="20"/><text x="695" y="268.5" class="f35">心不全</text><text x="695" y="274.5" class="f35">(/i)</text>
<rect class="c" x="707" y="260" width="15" height="10"/><text x="714.5" y="266.2" class="f3">人数</text>
<rect class="c" x="707" y="270" width="15" height="10"/><text x="714.5" y="276.2" class="f3">割合</text>
<rect class="c" x="722" y="260" width="24" height="10"/><text x="734" y="267" class="f5">10</text>
<rect class="c" x="746" y="260" width="26" height="10"/><text x="759" y="267" class="f5">2</text>
<rect class="c" x="772" y="260" width="26" height="10"/><text x="785" y="267" class="f5">2</text>
<rect class="c" x="798" y="260" width="26" height="10"/><text x="811" y="267" class="f5">6</text>
<rect class="c" x="722" y="270" width="24" height="10"/><text x="734" y="276.3" class="f35">34.5</text>
<rect class="c" x="746" y="270" width="26" height="10"/><text x="759" y="276.3" class="f35">22.2</text>
<rect class="c" x="772" y="270" width="26" height="10"/><text x="785" y="276.3" class="f35">12.5</text>
<rect class="c" x="798" y="270" width="26" height="10"/><text x="811" y="276.3" class="f35">26.1</text>
<rect class="tb" x="683" y="260" width="141" height="20"/>
<rect class="c" x="683" y="293" width="24" height="20"/><text x="695" y="299" class="f35">虚血性</text><text x="695" y="304" class="f35">心疾患</text><text x="695" y="309" class="f35">(/j)</text>
<rect class="c" x="707" y="293" width="15" height="10"/><text x="714.5" y="299.2" class="f3">人数</text>
<rect class="c" x="707" y="303" width="15" height="10"/><text x="714.5" y="309.2" class="f3">割合</text>
<rect class="c" x="722" y="293" width="24" height="10"/><text x="734" y="300" class="f5">5</text>
<rect class="c" x="746" y="293" width="26" height="10"/><text x="759" y="300" class="f5">0</text>
<rect class="c" x="772" y="293" width="26" height="10"/><text x="785" y="300" class="f5">1</text>
<rect class="c" x="798" y="293" width="26" height="10"/><text x="811" y="300" class="f5">4</text>
<rect class="c" x="722" y="303" width="24" height="10"/><text x="734" y="309.3" class="f35">27.8</text>
<rect class="c" x="746" y="303" width="26" height="10"/><text x="759" y="309.3" class="f35">0.0</text>
<rect class="c" x="772" y="303" width="26" height="10"/><text x="785" y="309.3" class="f35">6.3</text>
<rect class="c" x="798" y="303" width="26" height="10"/><text x="811" y="309.3" class="f35">17.4</text>
<rect class="tb" x="683" y="293" width="141" height="20"/>
<rect class="c" x="683" y="326" width="24" height="20"/><text x="695" y="334.5" class="f35">腎不全</text><text x="695" y="340.5" class="f35">(/k)</text>
<rect class="c" x="707" y="326" width="15" height="10"/><text x="714.5" y="332.2" class="f3">人数</text>
<rect class="c" x="707" y="336" width="15" height="10"/><text x="714.5" y="342.2" class="f3">割合</text>
<rect class="c" x="722" y="326" width="24" height="10"/><text x="734" y="333" class="f5">14</text>
<rect class="c" x="746" y="326" width="26" height="10"/><text x="759" y="333" class="f5">1</text>
<rect class="c" x="772" y="326" width="26" height="10"/><text x="785" y="333" class="f5">7</text>
<rect class="c" x="798" y="326" width="26" height="10"/><text x="811" y="333" class="f5">6</text>
<rect class="c" x="722" y="336" width="24" height="10"/><text x="734" y="342.3" class="f35">63.6</text>
<rect class="c" x="746" y="336" width="26" height="10"/><text x="759" y="342.3" class="f35">11.1</text>
<rect class="c" x="772" y="336" width="26" height="10"/><text x="785" y="342.3" class="f35">43.8</text>
<rect class="c" x="798" y="336" width="26" height="10"/><text x="811" y="342.3" class="f35">26.1</text>
<rect class="tb" x="683" y="326" width="141" height="20"/>
<circle class="cr" cx="688" cy="208" r="8"/><text x="688" y="211.3" class="nm">9</text>
</g>

<g id="n14">
<rect class="bx" x="395" y="443" width="69" height="183"/>
<text x="429.5" y="451" class="f4">生活習慣病の重なり</text><text x="429.5" y="456" class="f3">(高血圧・糖尿病)</text>
<rect class="c" x="404" y="467" width="16" height="12"/><text x="412" y="474.3" class="f3">人数</text>
<rect class="c" x="420" y="467" width="38" height="12"/><text x="439" y="475.5" class="f6">19人</text>
<rect class="c" x="404" y="479" width="16" height="8"/><text x="412" y="484.3" class="f3">割(l)</text>
<rect class="c" x="420" y="479" width="38" height="8"/><text x="439" y="484.5" class="f35">90.5%</text>
<rect class="c" x="404" y="493" width="16" height="11"/><text x="412" y="499.8" class="f3">人数</text>
<rect class="c" x="420" y="493" width="38" height="11"/><text x="439" y="501" class="f6">21人</text>
<rect class="c" x="404" y="504" width="16" height="8"/><text x="412" y="509.3" class="f3">割(m)</text>
<rect class="c" x="420" y="504" width="38" height="8"/><text x="439" y="509.5" class="f35">91.3%</text>
<rect class="c" x="404" y="545" width="16" height="10"/><text x="412" y="551.3" class="f3">人数</text>
<rect class="c" x="420" y="545" width="38" height="10"/><text x="439" y="552.5" class="f6">49人</text>
<rect class="c" x="404" y="555" width="16" height="7"/><text x="412" y="559.8" class="f3">割(n)</text>
<rect class="c" x="420" y="555" width="38" height="7"/><text x="439" y="560" class="f35">92.5%</text>
<rect class="c" x="404" y="605" width="16" height="9"/><text x="412" y="610.8" class="f3">人数</text>
<rect class="c" x="420" y="605" width="38" height="9"/><text x="439" y="611.8" class="f6">32人</text>
<rect class="c" x="404" y="614" width="16" height="6"/><text x="412" y="618.3" class="f3">割(o)</text>
<rect class="c" x="420" y="614" width="38" height="6"/><text x="439" y="618.5" class="f35">86.5%</text>
<circle class="cr" cx="390" cy="448" r="8.5"/><text x="390" y="451.3" class="nm" font-size="8.5">14</text>
</g>

<g id="n10">
<rect class="bx" x="493" y="448" width="94" height="69"/>
<rect class="hd" x="493" y="448" width="94" height="13"/><text x="540" y="456.8" class="f5">加齢によるその他の疾患</text>
<rect class="c" x="503" y="467" width="17" height="20"/><text x="511.5" y="475.5" class="f35">骨折</text><text x="511.5" y="481.5" class="f35">(l)</text>
<rect class="c" x="520" y="467" width="12" height="12"/><text x="526" y="474.3" class="f3">人数</text>
<rect class="c" x="532" y="467" width="45" height="12"/><text x="554.5" y="475.5" class="f6">21人</text>
<rect class="c" x="520" y="479" width="12" height="8"/><text x="526" y="484.3" class="f3">割(ア)</text>
<rect class="c" x="532" y="479" width="45" height="8"/><text x="554.5" y="484.5" class="f35">17.6%</text>
<rect class="c" x="503" y="493" width="17" height="19"/><text x="511.5" y="501" class="f35">認知症</text><text x="511.5" y="507" class="f35">(m)</text>
<rect class="c" x="520" y="493" width="12" height="11"/><text x="526" y="499.8" class="f3">人数</text>
<rect class="c" x="532" y="493" width="45" height="11"/><text x="554.5" y="501" class="f6">23人</text>
<rect class="c" x="520" y="504" width="12" height="8"/><text x="526" y="509.3" class="f3">割(ア)</text>
<rect class="c" x="532" y="504" width="45" height="8"/><text x="554.5" y="509.5" class="f35">19.3%</text>
<circle class="cr" cx="488" cy="450" r="9"/><text x="488" y="453.3" class="nm" font-size="8.5">10</text>
</g>

<g id="n12">
<rect class="bx" x="493" y="528" width="94" height="50"/>
<rect class="hd" x="493" y="528" width="94" height="10"/><text x="540" y="535.3" class="f5">多剤処方の状況</text>
<rect class="c" x="503" y="545" width="17" height="17"/><text x="511.5" y="552" class="f3">6種類以上</text><text x="511.5" y="557.5" class="f35">(n)</text>
<rect class="c" x="520" y="545" width="12" height="10"/><text x="526" y="551.3" class="f3">人数</text>
<rect class="c" x="532" y="545" width="45" height="10"/><text x="554.5" y="552.5" class="f6">53人</text>
<rect class="c" x="520" y="555" width="12" height="7"/><text x="526" y="559.8" class="f3">割(ア)</text>
<rect class="c" x="532" y="555" width="45" height="7"/><text x="554.5" y="560" class="f35">44.5%</text>
<text x="540" y="569" class="f3">※1か月に15日以上の処方が6種類以上</text>
<text x="540" y="573.5" class="f3">(薬剤の種類数を集計)</text>
<circle class="cr" cx="488" cy="550" r="9"/><text x="488" y="553.3" class="nm" font-size="8.5">12</text>
</g>

<g id="n13">
<rect class="bx" x="493" y="587" width="94" height="39"/>
<rect class="hd" x="493" y="587" width="94" height="11"/><text x="540" y="594.8" class="f5">歯科受診の状況</text>
<rect class="c" x="503" y="605" width="17" height="15"/><text x="511.5" y="611" class="f3">受診あり</text><text x="511.5" y="617" class="f35">(o)</text>
<rect class="c" x="520" y="605" width="12" height="9"/><text x="526" y="610.8" class="f3">人数</text>
<rect class="c" x="532" y="605" width="45" height="9"/><text x="554.5" y="611.8" class="f6">37人</text>
<rect class="c" x="520" y="614" width="12" height="6"/><text x="526" y="618.3" class="f3">割(ア)</text>
<rect class="c" x="532" y="614" width="45" height="6"/><text x="554.5" y="618.5" class="f35">31.1%</text>
<circle class="cr" cx="488" cy="590" r="9"/><text x="488" y="593.3" class="nm" font-size="8.5">13</text>
</g>

<g id="n11">
<line class="tl" x1="746" y1="487" x2="746" y2="493"/>
<rect class="c" x="682" y="454" width="64" height="13"/><text x="714" y="459.5" class="f35">要介護認定者のうち</text><text x="714" y="464.7" class="f35">下記の疾病治療者</text>
<rect class="c" x="746" y="454" width="27" height="13"/><text x="759.5" y="459.5" class="f35">支援1-2</text><text x="759.5" y="464.7" class="f3">(人)</text>
<rect class="c" x="773" y="454" width="25" height="13"/><text x="785.5" y="459.5" class="f35">介1-2</text><text x="785.5" y="464.7" class="f3">(人)</text>
<rect class="c" x="798" y="454" width="27" height="13"/><text x="811.5" y="459.5" class="f35">介3-4-5</text><text x="811.5" y="464.7" class="f3">(人)</text>
<rect class="c" x="682" y="467" width="24" height="20"/><text x="694" y="475.5" class="f35">骨折</text><text x="694" y="481.5" class="f35">(/l)</text>
<rect class="c" x="706" y="467" width="13" height="10"/><text x="712.5" y="473.2" class="f3">人数</text>
<rect class="c" x="706" y="477" width="13" height="10"/><text x="712.5" y="483.2" class="f3">割合</text>
<rect class="c" x="719" y="467" width="27" height="10"/><text x="732.5" y="474" class="f5">15</text>
<rect class="c" x="746" y="467" width="27" height="10"/><text x="759.5" y="474" class="f5">2</text>
<rect class="c" x="773" y="467" width="25" height="10"/><text x="785.5" y="474" class="f5">7</text>
<rect class="c" x="798" y="467" width="27" height="10"/><text x="811.5" y="474" class="f5">6</text>
<rect class="c" x="719" y="477" width="27" height="10"/><text x="732.5" y="483.3" class="f35">71.4</text>
<rect class="c" x="746" y="477" width="27" height="10"/><text x="759.5" y="483.3" class="f35">22.2</text>
<rect class="c" x="773" y="477" width="25" height="10"/><text x="785.5" y="483.3" class="f35">43.8</text>
<rect class="c" x="798" y="477" width="27" height="10"/><text x="811.5" y="483.3" class="f35">26.1</text>
<rect class="tb" x="682" y="454" width="143" height="33"/>
<rect class="c" x="682" y="493" width="24" height="19"/><text x="694" y="501" class="f35">認知症</text><text x="694" y="507" class="f35">(/m)</text>
<rect class="c" x="706" y="493" width="13" height="10"/><text x="712.5" y="499.2" class="f3">人数</text>
<rect class="c" x="706" y="503" width="13" height="9"/><text x="712.5" y="508.7" class="f3">割合</text>
<rect class="c" x="719" y="493" width="27" height="10"/><text x="732.5" y="500" class="f5">20</text>
<rect class="c" x="746" y="493" width="27" height="10"/><text x="759.5" y="500" class="f5">1</text>
<rect class="c" x="773" y="493" width="25" height="10"/><text x="785.5" y="500" class="f5">8</text>
<rect class="c" x="798" y="493" width="27" height="10"/><text x="811.5" y="500" class="f5">11</text>
<rect class="c" x="719" y="503" width="27" height="9"/><text x="732.5" y="508.8" class="f35">87.0</text>
<rect class="c" x="746" y="503" width="27" height="9"/><text x="759.5" y="508.8" class="f35">11.1</text>
<rect class="c" x="773" y="503" width="25" height="9"/><text x="785.5" y="508.8" class="f35">50.0</text>
<rect class="c" x="798" y="503" width="27" height="9"/><text x="811.5" y="508.8" class="f35">47.8</text>
<rect class="tb" x="682" y="493" width="143" height="19"/>
<circle class="cr" cx="682" cy="450" r="9"/><text x="682" y="453.3" class="nm" font-size="8.5">11</text>
</g>
</svg>
